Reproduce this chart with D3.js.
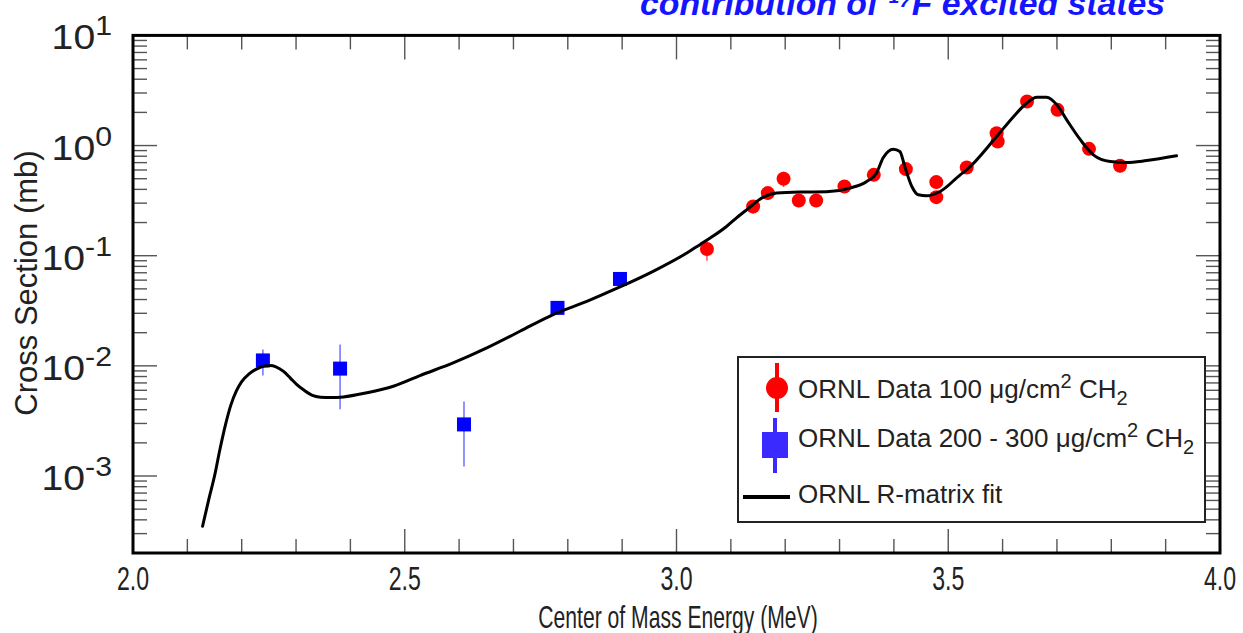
<!DOCTYPE html>
<html>
<head>
<meta charset="utf-8">
<script src="https://cdn.jsdelivr.net/npm/d3@7"></script>
<style>
  html, body { margin: 0; padding: 0; background: #fff; }
  svg { display: block; }
  text { font-family: "Liberation Sans", Arial, Helvetica, sans-serif; }
</style>
</head>
<body>
<svg id="chart" width="1243" height="633"></svg>
<script>
// ---------------- DATA ----------------
const xTickValues = [2.0, 2.5, 3.0, 3.5, 4.0];
const xTickLabels = ["2.0", "2.5", "3.0", "3.5", "4.0"];
const yTickExponents = [1, 0, -1, -2, -3];

// R-matrix fit curve (E in MeV, sigma in mb)
const fitE = [2.128, 2.140, 2.150, 2.160, 2.170, 2.180, 2.190, 2.200, 2.213, 2.228, 2.242, 2.252, 2.263,
  2.277, 2.290, 2.301, 2.315, 2.330, 2.345, 2.365, 2.387,
  2.430, 2.479, 2.528, 2.589, 2.651, 2.712, 2.773, 2.835, 2.896, 2.957, 3.019, 3.043, 3.062, 3.092,
  3.111, 3.129, 3.160, 3.184, 3.227, 3.276, 3.319, 3.350, 3.368, 3.380, 3.399, 3.411, 3.420, 3.433,
  3.445, 3.460, 3.485, 3.522, 3.534, 3.589, 3.620, 3.644, 3.663, 3.681, 3.700, 3.718, 3.743, 3.767,
  3.798, 3.828, 3.865, 3.920];
const fitSigma = [3.5e-4, 6.3e-4, 1.0e-3, 1.75e-3, 2.9e-3, 4.4e-3, 5.9e-3, 7.2e-3, 8.4e-3, 9.4e-3, 9.95e-3, 1.005e-2, 9.8e-3,
  8.9e-3, 7.7e-3, 6.8e-3, 6.0e-3, 5.4e-3, 5.2e-3, 5.15e-3, 5.22e-3,
  5.69e-3, 6.53e-3, 8.17e-3, 1.064e-2, 1.456e-2, 2.06e-2, 2.92e-2, 3.85e-2, 5.2e-2, 7.21e-2, 0.1058, 0.126, 0.1446, 0.184,
  0.222, 0.261, 0.340, 0.370, 0.378, 0.380, 0.411, 0.472, 0.562, 0.769, 0.927, 0.883, 0.645, 0.425,
  0.357, 0.350, 0.383, 0.542, 0.602, 1.207, 1.83, 2.42, 2.75, 2.75, 2.34, 1.71, 1.13, 0.824,
  0.716, 0.701, 0.731, 0.807];

// ORNL Data 100 ug/cm2 CH2 (red circles)
const redE     = [3.056, 3.141, 3.168, 3.197, 3.225, 3.257, 3.309, 3.363, 3.422, 3.478, 3.478, 3.534, 3.589, 3.591, 3.645, 3.701, 3.759, 3.816];
const redSigma = [0.115, 0.280, 0.370, 0.499, 0.317, 0.317, 0.425, 0.542, 0.611, 0.466, 0.340, 0.632, 1.295, 1.087, 2.51, 2.11, 0.933, 0.655];
const redLo    = [0.090, 0.240, 0.320, 0.420, 0.275, 0.275, 0.370, 0.475, 0.535, 0.405, 0.295, 0.555, 1.14, 0.955, 2.20, 1.85, 0.815, 0.570];
const redHi    = [0.140, 0.320, 0.420, 0.580, 0.360, 0.360, 0.480, 0.610, 0.690, 0.530, 0.385, 0.710, 1.45, 1.22, 2.82, 2.37, 1.05, 0.740];

// ORNL Data 200 - 300 ug/cm2 CH2 (blue squares)
const blueE     = [2.239, 2.381, 2.609, 2.781, 2.896];
const blueSigma = [0.0112, 0.00944, 0.00294, 0.0336, 0.0615];
const blueLo    = [0.00816, 0.00403, 0.00122, 0.0300, 0.0560];
const blueHi    = [0.01405, 0.0156, 0.00474, 0.0375, 0.0670];

// ---------------- CHART ----------------
(function () {
const svg = d3.select("#chart");
const pL = 133, pR = 1220, pT = 35.4, pB = 553;

const x = d3.scaleLinear().domain([2, 4]).range([pL, pR]);
const y = d3.scaleLog().domain([2e-4, 10]).range([pB, pT]);

const tickColor = "#555";
const g = svg.append("g");
function notHalf(v) { return Math.abs(v * 2 - Math.round(v * 2)) > 1e-6; }
const xMinor = d3.range(1, 20).map(i => 2 + i / 10).filter(notHalf);
const xMajor = [2.5, 3.0, 3.5];
function vTick(v, len) {
  g.append("line").attr("x1", x(v)).attr("x2", x(v)).attr("y1", pB).attr("y2", pB - len)
    .attr("stroke", tickColor).attr("stroke-width", 1.4);
  g.append("line").attr("x1", x(v)).attr("x2", x(v)).attr("y1", pT).attr("y2", pT + len)
    .attr("stroke", tickColor).attr("stroke-width", 1.4);
}
xMinor.forEach(v => vTick(v, 14));
xMajor.forEach(v => vTick(v, 24));

const yMinor = [];
for (let e = -4; e <= 0; e++) for (let k = 2; k <= 9; k++) {
  const v = k * Math.pow(10, e);
  if (v >= 2e-4 && v < 10) yMinor.push(v);
}
function hTick(v, len) {
  g.append("line").attr("x1", pL).attr("x2", pL + len).attr("y1", y(v)).attr("y2", y(v))
    .attr("stroke", tickColor).attr("stroke-width", 1.4);
  g.append("line").attr("x1", pR).attr("x2", pR - len).attr("y1", y(v)).attr("y2", y(v))
    .attr("stroke", tickColor).attr("stroke-width", 1.4);
}
yMinor.forEach(v => hTick(v, 14));
[1, 0.1, 0.01, 0.001].forEach(v => hTick(v, 24));

// Frame
svg.append("rect").attr("x", pL).attr("y", pT).attr("width", pR - pL).attr("height", pB - pT)
  .attr("fill", "none").attr("stroke", "#000").attr("stroke-width", 3);

// X tick labels (condensed)
xTickValues.forEach((v, i) => {
  svg.append("text")
    .attr("transform", `translate(${x(v)},${590}) scale(0.68,1)`)
    .attr("text-anchor", "middle").attr("font-size", 34).attr("fill", "#222")
    .text(xTickLabels[i]);
});

// Y tick labels 10^n
yTickExponents.forEach(e => {
  const t = svg.append("text")
    .attr("transform", `translate(112,${y(Math.pow(10, e)) + 14}) scale(1.12,1)`)
    .attr("text-anchor", "end").attr("font-size", 35).attr("fill", "#222");
  t.append("tspan").text("10");
  t.append("tspan").attr("font-size", 27).attr("dy", -14).text(e < 0 ? "-" + Math.abs(e) : String(e));
});

// Axis titles
svg.append("text")
  .attr("transform", `translate(${678},${628}) scale(0.66,1)`)
  .attr("text-anchor", "middle").attr("font-size", 32).attr("fill", "#222")
  .text("Center of Mass Energy (MeV)");
svg.append("text")
  .attr("transform", `translate(${37},${283}) rotate(-90)`)
  .attr("text-anchor", "middle").attr("font-size", 31).attr("fill", "#222")
  .text("Cross Section (mb)");

// Title (cut off at top edge of the picture, as in the reference)
svg.append("text")
  .attr("x", 640).attr("y", 15)
  .attr("font-size", 34).attr("font-weight", "bold").attr("font-style", "italic")
  .attr("fill", "#1414ff").attr("textLength", 525).attr("lengthAdjust", "spacingAndGlyphs")
  .text("contribution of \u00B9\u2077F excited states");

// Blue data
const blue = blueE.map((e, i) => ({ e, s: blueSigma[i], lo: blueLo[i], hi: blueHi[i] }));
svg.append("g").selectAll("line").data(blue).join("line")
  .attr("x1", d => x(d.e)).attr("x2", d => x(d.e))
  .attr("y1", d => y(d.lo)).attr("y2", d => y(d.hi))
  .attr("stroke", "#6f6fff").attr("stroke-width", 1.5);
svg.append("g").selectAll("rect").data(blue).join("rect")
  .attr("x", d => x(d.e) - 7).attr("y", d => y(d.s) - 7)
  .attr("width", 14).attr("height", 14).attr("fill", "#0000ff");

// Red data
const red = redE.map((e, i) => ({ e, s: redSigma[i], lo: redLo[i], hi: redHi[i] }));
svg.append("g").selectAll("line").data(red).join("line")
  .attr("x1", d => x(d.e)).attr("x2", d => x(d.e))
  .attr("y1", d => y(d.lo)).attr("y2", d => y(d.hi))
  .attr("stroke", "#ff5050").attr("stroke-width", 1.5);
svg.append("g").selectAll("circle").data(red).join("circle")
  .attr("cx", d => x(d.e)).attr("cy", d => y(d.s)).attr("r", 7).attr("fill", "#ff0000");

// Fit curve
const fit = fitE.map((e, i) => [e, fitSigma[i]]);
svg.append("path").datum(fit)
  .attr("d", d3.line().x(d => x(d[0])).y(d => y(d[1])).curve(d3.curveMonotoneX))
  .attr("fill", "none").attr("stroke", "#000").attr("stroke-width", 3)
  .attr("stroke-linejoin", "round").attr("stroke-linecap", "round");

// Legend
const lg = svg.append("g");
lg.append("rect").attr("x", 738).attr("y", 357).attr("width", 467).attr("height", 165)
  .attr("fill", "#fff").attr("stroke", "#222").attr("stroke-width", 2);
lg.append("line").attr("x1", 777).attr("x2", 777).attr("y1", 363).attr("y2", 412)
  .attr("stroke", "#ff0000").attr("stroke-width", 4);
lg.append("circle").attr("cx", 777).attr("cy", 388).attr("r", 11).attr("fill", "#ff0000");
lg.append("line").attr("x1", 775).attr("x2", 775).attr("y1", 418).attr("y2", 473)
  .attr("stroke", "#3a2aff").attr("stroke-width", 4);
lg.append("rect").attr("x", 762).attr("y", 432).attr("width", 26).attr("height", 26).attr("fill", "#3a2aff");
lg.append("line").attr("x1", 743).attr("x2", 790).attr("y1", 497).attr("y2", 497)
  .attr("stroke", "#000").attr("stroke-width", 4);

function legendText(yb, parts) {
  const t = lg.append("text").attr("x", 798).attr("y", yb).attr("font-size", 26).attr("fill", "#222");
  parts.forEach(p => {
    const s = t.append("tspan").text(p.t);
    if (p.sup) s.attr("font-size", 20).attr("dy", -10);
    if (p.sub) s.attr("font-size", 20).attr("dy", 7);
    if (p.back) s.attr("dy", 10);
  });
}
legendText(398, [{ t: "ORNL Data 100 \u03BCg/cm" }, { t: "2", sup: true }, { t: " CH", back: true }, { t: "2", sub: true }]);
legendText(447, [{ t: "ORNL Data 200 - 300 \u03BCg/cm" }, { t: "2", sup: true }, { t: " CH", back: true }, { t: "2", sub: true }]);
legendText(503, [{ t: "ORNL R-matrix fit" }]);
})();
</script>
</body>
</html>
